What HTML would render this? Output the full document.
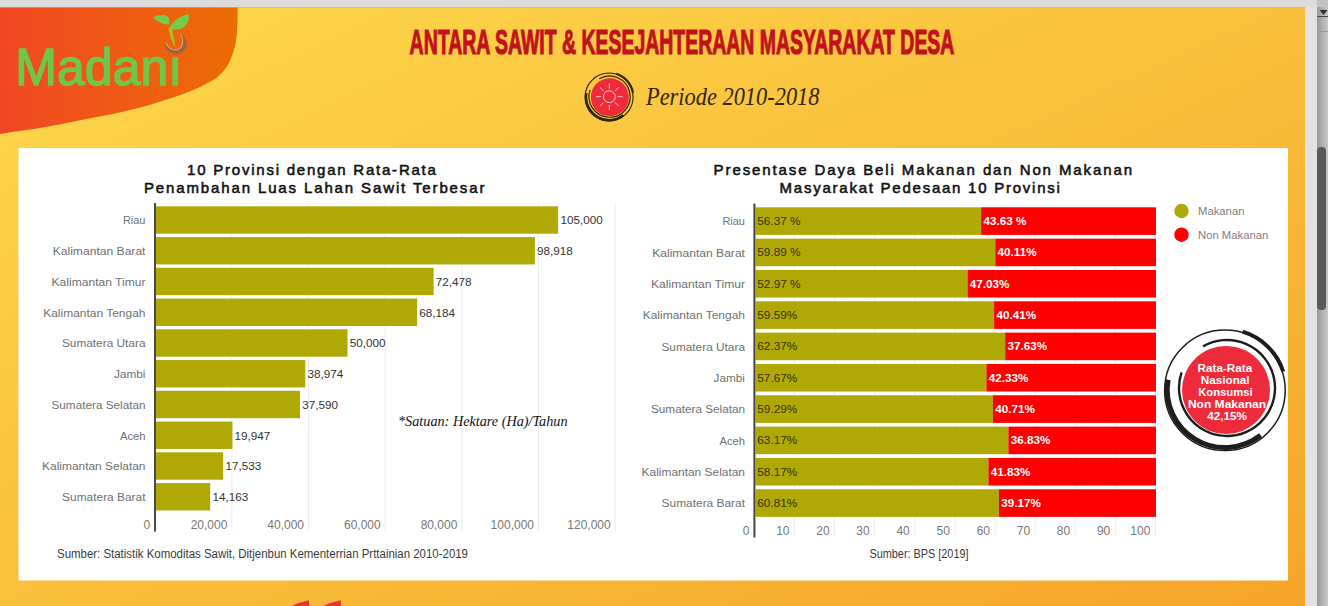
<!DOCTYPE html>
<html><head><meta charset="utf-8"><title>Madani</title>
<style>
html,body{margin:0;padding:0;width:1328px;height:606px;overflow:hidden;background:#f9bb39;}
svg{position:absolute;left:0;top:0;display:block}
text{font-family:"Liberation Sans",sans-serif;}
.ser{font-family:"Liberation Serif",serif;font-style:italic;}
.cat{font-size:11.7px;fill:#707070;text-anchor:end}
.val{font-size:11.7px;fill:#333}
.tick{font-size:12px;fill:#777;text-anchor:end}
.ttl{font-size:15px;fill:#111;stroke:#111;stroke-width:.55px}
.po{font-size:11.8px;fill:#363200;}
.pr{font-size:11.7px;fill:#fff;font-weight:bold}
</style></head><body>
<svg width="1328" height="606" viewBox="0 0 1328 606">
<defs>
<linearGradient id="bg" x1="0" y1="0" x2="1" y2="1"><stop offset="0" stop-color="#fed94c"/><stop offset="1" stop-color="#f5a52a"/></linearGradient>
<linearGradient id="blob" x1="0" y1="0" x2="1" y2="0"><stop offset="0" stop-color="#f14724"/><stop offset="1" stop-color="#ec6c04"/></linearGradient>
<linearGradient id="trk" x1="0" y1="0" x2="1" y2="0"><stop offset="0" stop-color="#9a9a9a"/><stop offset="1" stop-color="#c8c8c8"/></linearGradient>
</defs>

<rect x="0" y="0" width="1306" height="606" fill="url(#bg)"/>
<path d="M0,7 L237.5,7 C238,25 237,40 234,49.5 C231,60 228,66 222.9,71.8 C217,78.5 212,81 205.5,84.2 C198,88 190,91.5 183,94 C172,98 160,101.8 148.6,105.2 C132,110 116,113.5 99,116.4 C82,120 66,123 49.5,126.3 C33,129.5 16,131 0,134 Z" fill="url(#blob)"/>
<rect x="0" y="0" width="1328" height="7" fill="#dcdcdc"/><rect x="0" y="7" width="1317" height="1" fill="#b9b4a4" opacity=".6"/>
<rect x="1305" y="7" width="12" height="599" fill="#e2e2e5"/>
<rect x="1317" y="0" width="11" height="606" fill="url(#trk)"/>
<rect x="1317" y="0" width="11" height="7" fill="#c2c2c2"/>
<path d="M1319.5,10 L1327.5,10 L1323.5,15 Z" fill="#333"/>
<rect x="1317" y="16" width="11" height="1" fill="#444"/><rect x="1317" y="31" width="11" height="1" fill="#999"/>
<rect x="1317" y="147" width="9" height="163" rx="4" fill="#5a5a5a"/>
<text x="15.3" y="85" font-size="52" fill="#70c648" stroke="#70c648" stroke-width="1.5" stroke-linejoin="round" textLength="166.9" lengthAdjust="spacingAndGlyphs">Madanı</text>
<path d="M153,17.5 C157,15 162,14.5 166,15.5 C169,16.5 170,20 169.3,24.8 C163,24.5 157,21.5 153,17.5 Z" fill="#74cc4a"/>
<path d="M169.7,29 C171,22 179,16.5 188.7,13.8 C189.5,19 188,24 184,27 C180,29.8 174,30 169.7,29 Z" fill="#74cc4a"/>
<path d="M168.5,27 C169,35 171.5,42 175.5,47.5 C175,41 173,34 171.8,27.5 Z" fill="#b4b822"/>
<path d="M164.6,40 C163.5,49 169,54.2 176,54.2 C184,54.2 189.5,46 185.5,38.5 C184,35.5 182,33.5 179.6,32.5 C183.5,38 183.5,45 180,48.3 C175,52 167.5,49.5 164.6,40 Z" fill="#9a6542"/>
<path d="M165.6,42 C168.5,50 175,51.5 180,48.3 C183.5,45 183.7,39 180.6,33.6" fill="none" stroke="#e0a060" stroke-width="1.1"/>
<text x="409.6" y="54.3" font-size="35" font-weight="bold" fill="#c1121c" stroke="#c1121c" stroke-width="1.2" textLength="544.8" lengthAdjust="spacingAndGlyphs">ANTARA SAWIT &amp; KESEJAHTERAAN MASYARAKAT DESA</text>
<circle cx="609.1" cy="97" r="24" fill="none" stroke="#2c2503" stroke-width="1.1"/>
<path d="M599.3,78.8 A20.6,20.6 0 1 1 590.1,89.9" fill="none" stroke="#2c2503" stroke-width="1.2" stroke-linecap="butt"/>
<path d="M616.2,73.8 A24.3,24.3 0 0 1 633.0,92.8" fill="none" stroke="#2c2503" stroke-width="2.2" stroke-linecap="butt"/>
<path d="M623.4,115.3 A23.2,23.2 0 0 1 586.3,93.0" fill="none" stroke="#2c2503" stroke-width="2.6" stroke-linecap="butt"/>
<circle cx="609.8" cy="97.2" r="19" fill="#ee2b3b"/>
<circle cx="609.3" cy="96.7" r="5.9" fill="none" stroke="#ffd0d0" stroke-width="1"/>
<line x1="617.5" y1="96.7" x2="622.6" y2="96.7" stroke="#ffd0d0" stroke-width="1"/>
<line x1="615.1" y1="102.5" x2="618.7" y2="106.1" stroke="#ffd0d0" stroke-width="1"/>
<line x1="609.3" y1="104.9" x2="609.3" y2="110.0" stroke="#ffd0d0" stroke-width="1"/>
<line x1="603.5" y1="102.5" x2="599.9" y2="106.1" stroke="#ffd0d0" stroke-width="1"/>
<line x1="601.1" y1="96.7" x2="596.0" y2="96.7" stroke="#ffd0d0" stroke-width="1"/>
<line x1="603.5" y1="90.9" x2="599.9" y2="87.3" stroke="#ffd0d0" stroke-width="1"/>
<line x1="609.3" y1="88.5" x2="609.3" y2="83.4" stroke="#ffd0d0" stroke-width="1"/>
<line x1="615.1" y1="90.9" x2="618.7" y2="87.3" stroke="#ffd0d0" stroke-width="1"/>
<text class="ser" x="646" y="104.7" font-size="25.5" fill="#2f2610" textLength="173.5" lengthAdjust="spacingAndGlyphs">Periode 2010-2018</text>
<rect x="18.5" y="148" width="1269.5" height="432.5" fill="#fff"/>
<text class="ttl" x="187.1" y="175.2" textLength="248.8" lengthAdjust="spacing">10 Provinsi dengan Rata-Rata</text>
<text class="ttl" x="143.9" y="192.7" textLength="340.5" lengthAdjust="spacing">Penambahan Luas Lahan Sawit Terbesar</text>
<text class="ttl" x="713.6" y="175.4" textLength="418.4" lengthAdjust="spacing">Presentase Daya Beli Makanan dan Non Makanan</text>
<text class="ttl" x="779.6" y="193.2" textLength="280.3" lengthAdjust="spacing">Masyarakat Pedesaan 10 Provinsi</text>
<rect x="231.4" y="204" width="1" height="327" fill="#ececec"/>
<text class="tick" x="227.4" y="529">20,000</text>
<rect x="308.0" y="204" width="1" height="327" fill="#ececec"/>
<text class="tick" x="304.0" y="529">40,000</text>
<rect x="384.7" y="204" width="1" height="327" fill="#ececec"/>
<text class="tick" x="380.7" y="529">60,000</text>
<rect x="461.4" y="204" width="1" height="327" fill="#ececec"/>
<text class="tick" x="457.4" y="529">80,000</text>
<rect x="538.0" y="204" width="1" height="327" fill="#ececec"/>
<text class="tick" x="534.0" y="529">100,000</text>
<rect x="614.7" y="204" width="1" height="327" fill="#ececec"/>
<text class="tick" x="610.7" y="529">120,000</text>
<text class="tick" x="150.2" y="529">0</text>
<rect x="156" y="206.30" width="402.1" height="27.4" fill="#b0a805"/>
<text class="cat" x="145.5" y="224.3" textLength="22.6" lengthAdjust="spacingAndGlyphs">Riau</text>
<text class="val" x="560.4" y="224.3">105,000</text>
<rect x="156" y="237.05" width="378.9" height="27.4" fill="#b0a805"/>
<text class="cat" x="145.5" y="255.1" textLength="92.8" lengthAdjust="spacingAndGlyphs">Kalimantan Barat</text>
<text class="val" x="537.1" y="255.1">98,918</text>
<rect x="156" y="267.80" width="277.6" height="27.4" fill="#b0a805"/>
<text class="cat" x="145.5" y="285.8" textLength="94" lengthAdjust="spacingAndGlyphs">Kalimantan Timur</text>
<text class="val" x="435.8" y="285.8">72,478</text>
<rect x="156" y="298.55" width="261.1" height="27.4" fill="#b0a805"/>
<text class="cat" x="145.5" y="316.6" textLength="102.3" lengthAdjust="spacingAndGlyphs">Kalimantan Tengah</text>
<text class="val" x="419.3" y="316.6">68,184</text>
<rect x="156" y="329.30" width="191.5" height="27.4" fill="#b0a805"/>
<text class="cat" x="145.5" y="347.3" textLength="83.6" lengthAdjust="spacingAndGlyphs">Sumatera Utara</text>
<text class="val" x="349.7" y="347.3">50,000</text>
<rect x="156" y="360.05" width="149.3" height="27.4" fill="#b0a805"/>
<text class="cat" x="145.5" y="378.1" textLength="31.4" lengthAdjust="spacingAndGlyphs">Jambi</text>
<text class="val" x="307.5" y="378.1">38,974</text>
<rect x="156" y="390.80" width="144.0" height="27.4" fill="#b0a805"/>
<text class="cat" x="145.5" y="408.8" textLength="94" lengthAdjust="spacingAndGlyphs">Sumatera Selatan</text>
<text class="val" x="302.2" y="408.8">37,590</text>
<rect x="156" y="421.55" width="76.4" height="27.4" fill="#b0a805"/>
<text class="cat" x="145.5" y="439.6" textLength="25.6" lengthAdjust="spacingAndGlyphs">Aceh</text>
<text class="val" x="234.6" y="439.6">19,947</text>
<rect x="156" y="452.30" width="67.2" height="27.4" fill="#b0a805"/>
<text class="cat" x="145.5" y="470.3" textLength="103.4" lengthAdjust="spacingAndGlyphs">Kalimantan Selatan</text>
<text class="val" x="225.4" y="470.3">17,533</text>
<rect x="156" y="483.05" width="54.2" height="27.4" fill="#b0a805"/>
<text class="cat" x="145.5" y="501.1" textLength="83.4" lengthAdjust="spacingAndGlyphs">Sumatera Barat</text>
<text class="val" x="212.4" y="501.1">14,163</text>
<rect x="154" y="203" width="2" height="328.6" fill="#4a4a4a"/>
<text class="ser" x="398" y="425.5" font-size="14" fill="#111" textLength="169.5" lengthAdjust="spacingAndGlyphs">*Satuan: Hektare (Ha)/Tahun</text>
<text x="57" y="557.5" font-size="12" fill="#3a3a3a" textLength="411" lengthAdjust="spacingAndGlyphs">Sumber: Statistik Komoditas Sawit, Ditjenbun Kementerrian Prttainian 2010-2019</text>
<rect x="794.0" y="207" width="1" height="330" fill="#eeeeee"/>
<text class="tick" x="789.5" y="534.5">10</text>
<rect x="834.1" y="207" width="1" height="330" fill="#eeeeee"/>
<text class="tick" x="829.6" y="534.5">20</text>
<rect x="874.2" y="207" width="1" height="330" fill="#eeeeee"/>
<text class="tick" x="869.7" y="534.5">30</text>
<rect x="914.3" y="207" width="1" height="330" fill="#eeeeee"/>
<text class="tick" x="909.8" y="534.5">40</text>
<rect x="954.4" y="207" width="1" height="330" fill="#eeeeee"/>
<text class="tick" x="949.9" y="534.5">50</text>
<rect x="994.5" y="207" width="1" height="330" fill="#eeeeee"/>
<text class="tick" x="990.0" y="534.5">60</text>
<rect x="1034.6" y="207" width="1" height="330" fill="#eeeeee"/>
<text class="tick" x="1030.1" y="534.5">70</text>
<rect x="1074.7" y="207" width="1" height="330" fill="#eeeeee"/>
<text class="tick" x="1070.2" y="534.5">80</text>
<rect x="1114.8" y="207" width="1" height="330" fill="#eeeeee"/>
<text class="tick" x="1110.3" y="534.5">90</text>
<rect x="1154.9" y="207" width="1" height="330" fill="#eeeeee"/>
<text class="tick" x="1150.4" y="534.5">100</text>
<text class="tick" x="749.4" y="534.5">0</text>
<rect x="755.5" y="207.30" width="225.6" height="27.6" fill="#b0a805"/>
<rect x="981.1" y="207.30" width="174.9" height="27.6" fill="#fe0000"/>
<text class="cat" x="745" y="225.4" textLength="22.6" lengthAdjust="spacingAndGlyphs">Riau</text>
<text class="po" x="757.3" y="224.9">56.37 %</text>
<text class="pr" x="983.4" y="224.9">43.63 %</text>
<rect x="755.5" y="238.63" width="239.8" height="27.6" fill="#b0a805"/>
<rect x="995.3" y="238.63" width="160.7" height="27.6" fill="#fe0000"/>
<text class="cat" x="745" y="256.7" textLength="92.8" lengthAdjust="spacingAndGlyphs">Kalimantan Barat</text>
<text class="po" x="757.3" y="256.2">59.89 %</text>
<text class="pr" x="997.6" y="256.2">40.11%</text>
<rect x="755.5" y="269.96" width="212.0" height="27.6" fill="#b0a805"/>
<rect x="967.5" y="269.96" width="188.5" height="27.6" fill="#fe0000"/>
<text class="cat" x="745" y="288.1" textLength="94" lengthAdjust="spacingAndGlyphs">Kalimantan Timur</text>
<text class="po" x="757.3" y="287.6">52.97 %</text>
<text class="pr" x="969.8" y="287.6">47.03%</text>
<rect x="755.5" y="301.29" width="238.6" height="27.6" fill="#b0a805"/>
<rect x="994.1" y="301.29" width="161.9" height="27.6" fill="#fe0000"/>
<text class="cat" x="745" y="319.4" textLength="102.3" lengthAdjust="spacingAndGlyphs">Kalimantan Tengah</text>
<text class="po" x="757.3" y="318.9">59.59%</text>
<text class="pr" x="996.4" y="318.9">40.41%</text>
<rect x="755.5" y="332.62" width="249.7" height="27.6" fill="#b0a805"/>
<rect x="1005.2" y="332.62" width="150.8" height="27.6" fill="#fe0000"/>
<text class="cat" x="745" y="350.7" textLength="83.6" lengthAdjust="spacingAndGlyphs">Sumatera Utara</text>
<text class="po" x="757.3" y="350.2">62.37%</text>
<text class="pr" x="1007.5" y="350.2">37.63%</text>
<rect x="755.5" y="363.95" width="230.9" height="27.6" fill="#b0a805"/>
<rect x="986.4" y="363.95" width="169.6" height="27.6" fill="#fe0000"/>
<text class="cat" x="745" y="382.1" textLength="31.4" lengthAdjust="spacingAndGlyphs">Jambi</text>
<text class="po" x="757.3" y="381.6">57.67%</text>
<text class="pr" x="988.7" y="381.6">42.33%</text>
<rect x="755.5" y="395.28" width="237.4" height="27.6" fill="#b0a805"/>
<rect x="992.9" y="395.28" width="163.1" height="27.6" fill="#fe0000"/>
<text class="cat" x="745" y="413.4" textLength="94" lengthAdjust="spacingAndGlyphs">Sumatera Selatan</text>
<text class="po" x="757.3" y="412.9">59.29%</text>
<text class="pr" x="995.2" y="412.9">40.71%</text>
<rect x="755.5" y="426.61" width="252.9" height="27.6" fill="#b0a805"/>
<rect x="1008.4" y="426.61" width="147.6" height="27.6" fill="#fe0000"/>
<text class="cat" x="745" y="444.7" textLength="25.6" lengthAdjust="spacingAndGlyphs">Aceh</text>
<text class="po" x="757.3" y="444.2">63.17%</text>
<text class="pr" x="1010.7" y="444.2">36.83%</text>
<rect x="755.5" y="457.94" width="232.9" height="27.6" fill="#b0a805"/>
<rect x="988.4" y="457.94" width="167.6" height="27.6" fill="#fe0000"/>
<text class="cat" x="745" y="476.0" textLength="103.4" lengthAdjust="spacingAndGlyphs">Kalimantan Selatan</text>
<text class="po" x="757.3" y="475.5">58.17%</text>
<text class="pr" x="990.7" y="475.5">41.83%</text>
<rect x="755.5" y="489.27" width="243.4" height="27.6" fill="#b0a805"/>
<rect x="998.9" y="489.27" width="157.1" height="27.6" fill="#fe0000"/>
<text class="cat" x="745" y="507.4" textLength="83.4" lengthAdjust="spacingAndGlyphs">Sumatera Barat</text>
<text class="po" x="757.3" y="506.9">60.81%</text>
<text class="pr" x="1001.2" y="506.9">39.17%</text>
<rect x="753.4" y="203.5" width="2" height="334" fill="#444"/>
<text x="869.5" y="557.5" font-size="12" fill="#3a3a3a" textLength="99" lengthAdjust="spacingAndGlyphs">Sumber: BPS [2019]</text>
<circle cx="1181.5" cy="211" r="7.2" fill="#b0a805"/><circle cx="1181.5" cy="234.7" r="7.2" fill="#fe0000"/>
<text x="1198" y="215" font-size="11.3" fill="#808080">Makanan</text><text x="1198" y="239" font-size="11.3" fill="#808080">Non Makanan</text>
<clipPath id="pc"><rect x="18.5" y="148" width="1269.5" height="432.5"/></clipPath><g clip-path="url(#pc)">
<circle cx="1224.9" cy="390.3" r="60.3" fill="none" stroke="#1d1d1d" stroke-width="1.5"/>
<path d="M1203.0,346.4 A48,48 0 1 1 1181.6,372.4" fill="none" stroke="#1d1d1d" stroke-width="2.4" stroke-linecap="butt"/>
<path d="M1242.7,331.7 A61.5,61.5 0 0 1 1283.2,371.5" fill="none" stroke="#1d1d1d" stroke-width="4" stroke-linecap="butt"/>
<path d="M1260.6,435.3 A57.8,57.8 0 0 1 1168.1,379.8" fill="none" stroke="#1d1d1d" stroke-width="5" stroke-linecap="butt"/>
<circle cx="1226" cy="390" r="44" fill="#ee2b3b"/>
</g>
<text x="1197.5" y="371.9" font-size="11" font-weight="bold" fill="#fff" textLength="54.7" lengthAdjust="spacingAndGlyphs">Rata-Rata</text>
<text x="1200.7" y="383.9" font-size="11" font-weight="bold" fill="#fff" textLength="48.9" lengthAdjust="spacingAndGlyphs">Nasional</text>
<text x="1198.2" y="396.1" font-size="11" font-weight="bold" fill="#fff" textLength="54.4" lengthAdjust="spacingAndGlyphs">Konsumsi</text>
<text x="1187.9" y="407.9" font-size="11" font-weight="bold" fill="#fff" textLength="78.2" lengthAdjust="spacingAndGlyphs">Non Makanan</text>
<text x="1207.2" y="419.7" font-size="11" font-weight="bold" fill="#fff" textLength="39.6" lengthAdjust="spacingAndGlyphs">42,15%</text>
<path d="M291.5,606 Q300,602 309,600.2 L309,606 Z" fill="#e9303a"/>
<path d="M323,606 Q331.5,602 340.8,600.2 L340.8,606 Z" fill="#e9303a"/>
</svg></body></html>
